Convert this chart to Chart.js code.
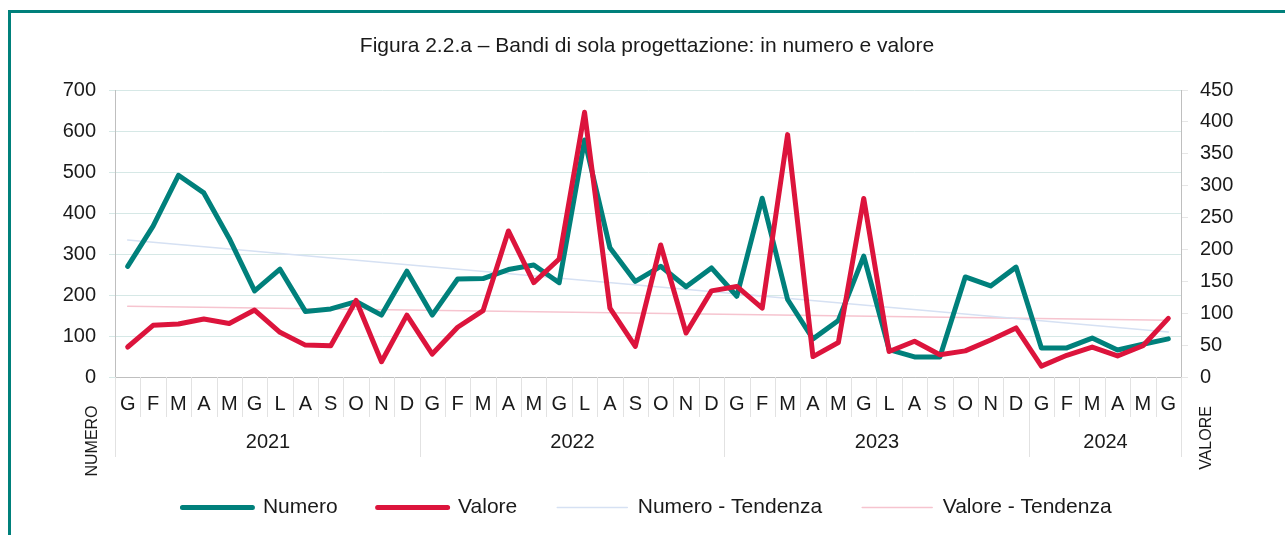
<!DOCTYPE html>
<html>
<head>
<meta charset="utf-8">
<script src="https://cdn.jsdelivr.net/npm/chart.js@4/dist/chart.umd.min.js"></script>
<style>
html, body { margin: 0; padding: 0; background: #fff; overflow: hidden; }
#wrap { position: absolute; left: 0; top: 0; width: 1285px; height: 535px; }
#frame { position: absolute; left: 8px; top: 10px; width: 1400px; height: 700px; border-left: 3px solid #00807b; border-top: 3px solid #00807b; pointer-events: none; }
</style>
</head>
<body>
<div id="wrap"><canvas id="chart"></canvas></div>
<div id="frame"></div>
<script>
// mesi (iniziali) gen 2021 - giu 2024
const months = [
    "G", "F", "M", "A", "M", "G", "L", "A", "S", "O", "N", "D",
    "G", "F", "M", "A", "M", "G", "L", "A", "S", "O", "N", "D",
    "G", "F", "M", "A", "M", "G", "L", "A", "S", "O", "N", "D",
    "G", "F", "M", "A", "M", "G"
];
const years = ["2021", "2022", "2023", "2024"];
const yearSpans = [12, 12, 12, 6];

const numero = [
    270, 368, 492, 449, 338, 210, 263, 160, 166, 184, 151, 258,
    151, 239, 240, 262, 273, 230, 578, 315, 233, 270, 220, 266,
    197, 436, 189, 93, 138, 295, 67, 49, 49, 244, 222, 268,
    71, 71, 95, 66, 80, 93
];
const valore = [
    47, 81, 83, 91, 84, 105, 70, 50, 49, 120, 24, 97,
    36, 78, 104, 229, 148, 185, 415, 108, 48, 207, 69, 135,
    142, 108, 380, 32, 54, 280, 40, 56, 35, 41, 58, 77,
    17, 34, 47, 33, 49, 92
];
// linee di tendenza: valore al primo e all'ultimo mese
const numeroTrendEnds = [334, 110];
const valoreTrendEnds = [111, 89];

const leftTicks = [0, 700, 100];
const rightTicks = [0, 450, 50];

const TEAL = "#00807b",
    RED = "#dc143c",
    INK = "#1a1a1a",
    FONT = "'Liberation Sans', Arial, sans-serif";

function ends(pair) {
    return months.map((m, i) => i === 0 ? pair[0] : (i === months.length - 1 ? pair[1] : null));
}

const groups = {
    id: "groups",
    afterDraw(c) {
        const { ctx, chartArea } = c,
            x = c.scales.x,
            step = x.getPixelForValue(1) - x.getPixelForValue(0),
            top = chartArea.bottom;
        const edge = k => Math.round(x.getPixelForValue(k) - step / 2) + 0.5;
        const bounds = [0];
        yearSpans.forEach(n => bounds.push(bounds[bounds.length - 1] + n));

        ctx.save();
        ctx.strokeStyle = "#e2e2e2";
        ctx.lineWidth = 1;
        for (let k = 0; k <= months.length; k++) {
            const long = bounds.includes(k);
            ctx.beginPath();
            ctx.moveTo(edge(k), top);
            ctx.lineTo(edge(k), top + (long ? 80 : 40));
            ctx.stroke();
        }

        ctx.fillStyle = INK;
        ctx.font = "20px " + FONT;
        ctx.textAlign = "center";
        ctx.textBaseline = "middle";
        years.forEach((y, i) => {
            const mid = (edge(bounds[i]) + edge(bounds[i + 1])) / 2;
            ctx.fillText(y, mid, top + 65);
        });

        ctx.font = "16px " + FONT;
        [["NUMERO", 93, 441], ["VALORE", 1207, 438]].forEach(([t, px, py]) => {
            ctx.save();
            ctx.translate(px, py);
            ctx.rotate(-Math.PI / 2);
            ctx.fillText(t, 0, 0);
            ctx.restore();
        });
        ctx.restore();
    }
};

new Chart(document.getElementById("chart"), {
    type: "line",
    data: {
        labels: months,
        datasets: [{
            label: "Numero",
            data: numero,
            yAxisID: "y",
            order: 1,
            borderColor: TEAL,
            backgroundColor: TEAL,
            borderWidth: 5,
        }, {
            label: "Valore",
            data: valore,
            yAxisID: "y1",
            order: 0,
            borderColor: RED,
            backgroundColor: RED,
            borderWidth: 5,
        }, {
            label: "Numero - Tendenza",
            data: ends(numeroTrendEnds),
            yAxisID: "y",
            order: 2,
            spanGaps: true,
            borderColor: "#d6e1f3",
            backgroundColor: "#d6e1f3",
            borderWidth: 1.5,
        }, {
            label: "Valore - Tendenza",
            data: ends(valoreTrendEnds),
            yAxisID: "y1",
            order: 3,
            spanGaps: true,
            borderColor: "#f6c4cf",
            backgroundColor: "#f6c4cf",
            borderWidth: 1.5,
        }]
    },
    options: {
        responsive: true,
        maintainAspectRatio: false,
        animation: false,
        layout: { padding: { left: 9, right: 0, top: 0, bottom: 7 } },
        elements: {
            point: { radius: 0 },
            line: { tension: 0, borderJoinStyle: "round", borderCapStyle: "round", fill: false }
        },
        plugins: {
            tooltip: { enabled: false },
            title: {
                display: true,
                text: "Figura 2.2.a \u2013 Bandi di sola progettazione: in numero e valore",
                color: INK,
                font: { family: FONT, size: 21, weight: "normal" },
                padding: { top: 33.4, bottom: 31.4 }
            },
            legend: {
                position: "bottom",
                labels: {
                    color: INK,
                    font: { family: FONT, size: 21 },
                    boxWidth: 70,
                    boxHeight: 0,
                    padding: 40,
                    sort: (a, b) => a.datasetIndex - b.datasetIndex
                }
            }
        },
        scales: {
            x: {
                offset: true,
                grid: { display: false, drawTicks: false, offset: true },
                border: { display: true, color: "#bfbfbf", width: 1 },
                ticks: {
                    color: INK,
                    font: { family: FONT, size: 20 },
                    padding: 15,
                    maxRotation: 0,
                    autoSkip: false
                },
                afterFit: s => { s.height = 80; }
            },
            y: {
                position: "left",
                min: leftTicks[0],
                max: leftTicks[1],
                ticks: {
                    stepSize: leftTicks[2],
                    color: INK,
                    font: { family: FONT, size: 20 },
                    padding: 13
                },
                grid: { color: "#d6e8e6", tickLength: 6 },
                border: { color: "#bfbfbf" },
                afterFit: s => { s.width = 106; }
            },
            y1: {
                position: "right",
                min: rightTicks[0],
                max: rightTicks[1],
                ticks: {
                    stepSize: rightTicks[2],
                    color: INK,
                    font: { family: FONT, size: 20 },
                    padding: 12
                },
                grid: { drawOnChartArea: false, color: "#e6e6e6", tickLength: 7 },
                border: { color: "#bfbfbf" },
                afterFit: s => { s.width = 104; }
            }
        }
    },
    plugins: [groups]
});
</script>
</body>
</html>
